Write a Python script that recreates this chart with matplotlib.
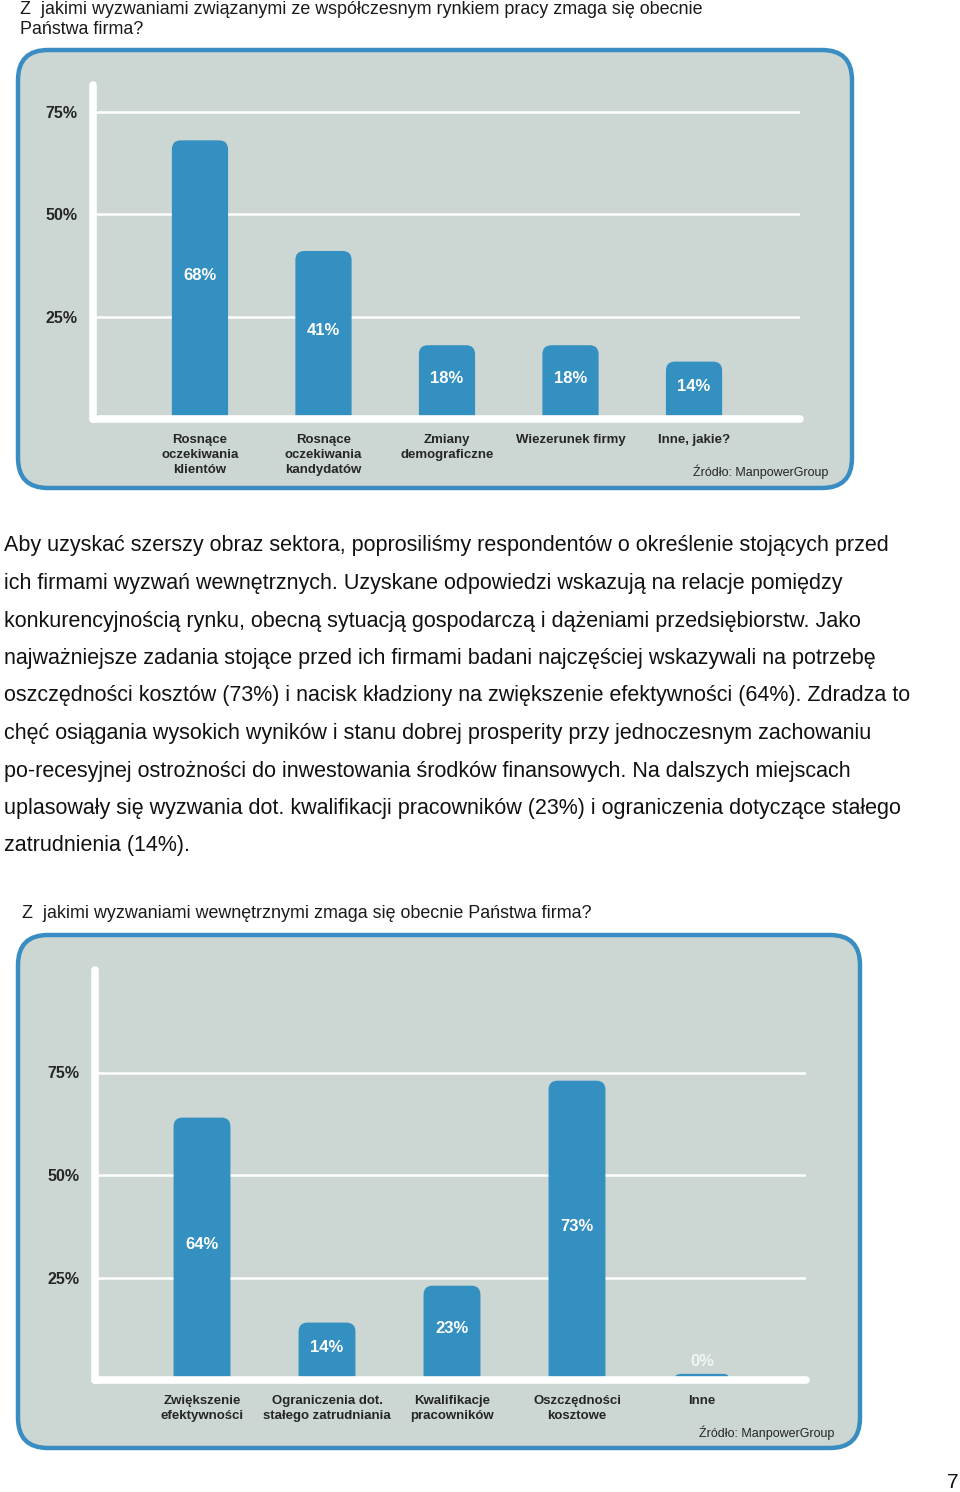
import matplotlib
matplotlib.use('Agg')
import matplotlib.pyplot as plt
from matplotlib.patches import FancyBboxPatch

plt.rcParams['font.family'] = ['Liberation Sans', 'DejaVu Sans']

# dane
title1 = ["Z  jakimi wyzwaniami związanymi ze współczesnym rynkiem pracy zmaga się obecnie",
          "Państwa firma?"]
cats1 = ["Rosnące\noczekiwania\nklientów", "Rosnące\noczekiwania\nkandydatów",
         "Zmiany\ndemograficzne", "Wiezerunek firmy", "Inne, jakie?"]
vals1 = [68, 41, 18, 18, 14]

title2 = "Z  jakimi wyzwaniami wewnętrznymi zmaga się obecnie Państwa firma?"
cats2 = ["Zwiększenie\nefektywności", "Ograniczenia dot.\nstałego zatrudniania",
         "Kwalifikacje\npracowników", "Oszczędności\nkosztowe", "Inne"]
vals2 = [64, 14, 23, 73, 0]

yticks = [25, 50, 75]
ytick_labels = ["25%", "50%", "75%"]
source = "Źródło: ManpowerGroup"

paragraph = [
    "Aby uzyskać szerszy obraz sektora, poprosiliśmy respondentów o określenie stojących przed",
    "ich firmami wyzwań wewnętrznych. Uzyskane odpowiedzi wskazują na relacje pomiędzy",
    "konkurencyjnością rynku, obecną sytuacją gospodarczą i dążeniami przedsiębiorstw. Jako",
    "najważniejsze zadania stojące przed ich firmami badani najczęściej wskazywali na potrzebę",
    "oszczędności kosztów (73%) i nacisk kładziony na zwiększenie efektywności (64%). Zdradza to",
    "chęć osiągania wysokich wyników i stanu dobrej prosperity przy jednoczesnym zachowaniu",
    "po-recesyjnej ostrożności do inwestowania środków finansowych. Na dalszych miejscach",
    "uplasowały się wyzwania dot. kwalifikacji pracowników (23%) i ograniczenia dotyczące stałego",
    "zatrudnienia (14%).",
]
page_no = "7"

W, H = 960, 1492
BAR = '#3390c0'
BORDER = '#3a8dc2'
PANEL = '#ccd6d2'
DARK = '#262626'

fig = plt.figure(figsize=(W / 100, H / 100), dpi=100)
fig.patch.set_facecolor('white')

# tło w pikselach
bg = fig.add_axes([0, 0, 1, 1])
bg.set_xlim(0, W)
bg.set_ylim(H, 0)
bg.axis('off')


def panel(x0, y0, x1, y1):
    p = FancyBboxPatch((x0, y0), x1 - x0, y1 - y0,
                       boxstyle="round,pad=0,rounding_size=30",
                       fc=PANEL, ec=BORDER, lw=3.2)
    bg.add_patch(p)


def bar_chart(box, xlim, ylim, vals, cats, src_x, src_y):
    left, top, right, bottom = box
    ax = fig.add_axes([left / W, 1 - bottom / H, (right - left) / W, (bottom - top) / H])
    ax.set_facecolor('none')
    ax.set_xlim(*xlim)
    ax.set_ylim(0, ylim)
    for s in ax.spines.values():
        s.set_visible(False)

    px_x = (right - left) / (xlim[1] - xlim[0])
    px_y = (bottom - top) / ylim

    for t in yticks:
        ax.axhline(t, color='white', lw=1.8, zorder=1)

    w = 0.455
    r_px = 9
    below = r_px / px_y  # dolne zaokrąglenia chowają się pod osią
    for i, v in enumerate(vals):
        h = max(v, 1.5)
        r = min(r_px, (h + below) * px_y / 2)
        p = FancyBboxPatch((i - w / 2, -below), w, h + below,
                           boxstyle="round,pad=0,rounding_size=%f" % (r / px_x),
                           mutation_aspect=px_x / px_y,
                           fc=BAR, ec='none', zorder=2)
        ax.add_patch(p)
        ax.text(i, max(v / 2 + 1, 4.5), "%d%%" % v,
                color='white', alpha=1.0 if v > 0 else 0.75, fontsize=12,
                fontweight='bold', ha='center', va='center', zorder=3)

    # osie
    ax.plot([0, 0], [0, 1], transform=ax.transAxes, color='white', lw=5.5,
            solid_capstyle='round', clip_on=False, zorder=4)
    ax.plot([0, 1], [0, 0], transform=ax.transAxes, color='white', lw=5.5,
            solid_capstyle='round', clip_on=False, zorder=4)

    ax.set_yticks(yticks, ytick_labels)
    ax.set_xticks(range(len(cats)), cats)
    ax.tick_params(axis='y', length=0, pad=11, labelsize=11.5, labelcolor=DARK)
    ax.tick_params(axis='x', length=0, pad=10.5, labelsize=9.5, labelcolor=DARK)
    for lab in ax.get_yticklabels():
        lab.set_fontweight('bold')
    for lab in ax.get_xticklabels():
        lab.set_fontweight('bold')
        lab.set_linespacing(1.38)

    bg.text(src_x, src_y, source, fontsize=9, color=DARK, ha='right', va='center')
    return ax


# wykres 1
bg.text(20, 9, title1[0], fontsize=12.9, color='#1a1a1a', va='center', ha='left')
bg.text(20, 29, title1[1], fontsize=12.9, color='#1a1a1a', va='center', ha='left')
panel(18, 50, 852, 488)
bar_chart((93, 85, 800, 419), (-0.866, 4.858), 81.5, vals1, cats1, 828, 472)

# tekst
for k, line in enumerate(paragraph):
    bg.text(4, 546 + k * 37.5, line, fontsize=15.5, color='#111111', va='center', ha='left')

# wykres 2
bg.text(22, 913, title2, fontsize=12.9, color='#1a1a1a', va='center', ha='left')
panel(18, 935, 860, 1448)
bar_chart((95, 970, 806, 1380), (-0.856, 4.832), 100, vals2, cats2, 834, 1433)

bg.text(953, 1483, page_no, fontsize=15, color='#111111', va='center', ha='center')

fig.savefig('out.png', dpi=100)
